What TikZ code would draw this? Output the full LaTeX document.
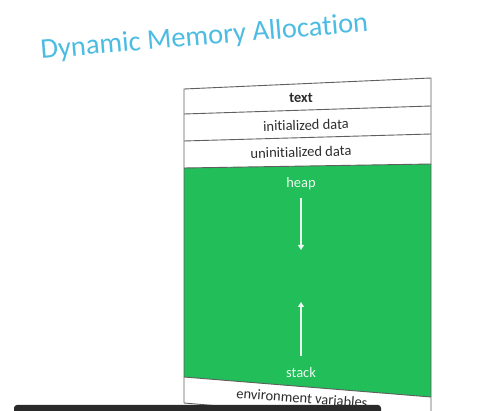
\documentclass[tikz,border=0pt]{standalone}
\usepackage{fontspec}
\setmainfont{Carlito}[Ligatures=NoCommon]
\usetikzlibrary{arrows.meta}
\definecolor{titleblue}{RGB}{77,188,226}
\definecolor{heapgreen}{RGB}{33,190,89}
\definecolor{seggray}{RGB}{95,95,95}
\definecolor{labelgray}{RGB}{45,45,45}
\definecolor{capbar}{RGB}{42,42,42}
\definecolor{arrowwhite}{RGB}{235,250,238}
\tikzset{
  segline/.style={draw=seggray, line width=0.9pt},
  seglabel/.style={font=\fontsize{14.5}{16}\selectfont, text=labelgray, inner sep=0pt},
  greenlabel/.style={font=\fontsize{14.5}{16}\selectfont, text=arrowwhite, inner sep=0pt},
  growarrow/.style={draw=arrowwhite, line width=1.8pt, -{Triangle[length=5pt,width=6pt]}}
}
\begin{document}
\begin{tikzpicture}[x=1pt,y=-1pt]
\useasboundingbox (0,0) rectangle (482,411);
\fill[white] (0,0) rectangle (482,411);
% title
\node[font=\fontsize{28.5}{32}\selectfont, text=titleblue, rotate=4.8, anchor=base, inner sep=0pt]
  (title) at (205,45) {Dynamic Memory Allocation};
% corners of the segments
\coordinate (tl) at (184,89);   \coordinate (tr) at (431,78);
\coordinate (al) at (184,114);  \coordinate (ar) at (431,106);
\coordinate (bl) at (184,141);  \coordinate (br) at (431,134);
\coordinate (gl) at (184,168);  \coordinate (gr) at (431,164);
\coordinate (hl) at (184,377);  \coordinate (hr) at (431,397);
\coordinate (el) at (184,403);  \coordinate (er) at (431,424);
% green heap/stack region
\fill[heapgreen] (gl) -- (gr) -- (hr) -- (hl) -- cycle;
% outlines
\draw[segline] (el) -- (tl) -- (tr) -- (er);
\draw[segline] (al) -- (ar);
\draw[segline] (bl) -- (br);
\draw[segline] (gl) -- (gr);
\draw[segline] (hl) -- (hr);
\draw[segline] (el) -- (er);
% labels
\node[seglabel, font=\bfseries\fontsize{14.5}{16}\selectfont, rotate=1] (text) at (301,98) {text};
\node[seglabel, rotate=1.6] (init) at (306,125) {initialized data};
\node[seglabel, rotate=1.6] (uninit) at (301,152) {uninitialized data};
\node[greenlabel] (heap) at (301,184) {heap};
\node[greenlabel] (stack) at (301,373) {stack};
\node[seglabel, rotate=-4.3] (env) at (302,398) {environment variables};
% growth arrows
\coordinate (hs) at (301,198); \coordinate (he) at (301,250);
\coordinate (ss) at (301,356); \coordinate (se) at (301,302);
\draw[growarrow] (hs) -- (he);
\draw[growarrow] (ss) -- (se);
% caption bar
\fill[capbar, rounded corners=3pt] (14,405) rectangle (381,425);
\end{tikzpicture}
\end{document}
